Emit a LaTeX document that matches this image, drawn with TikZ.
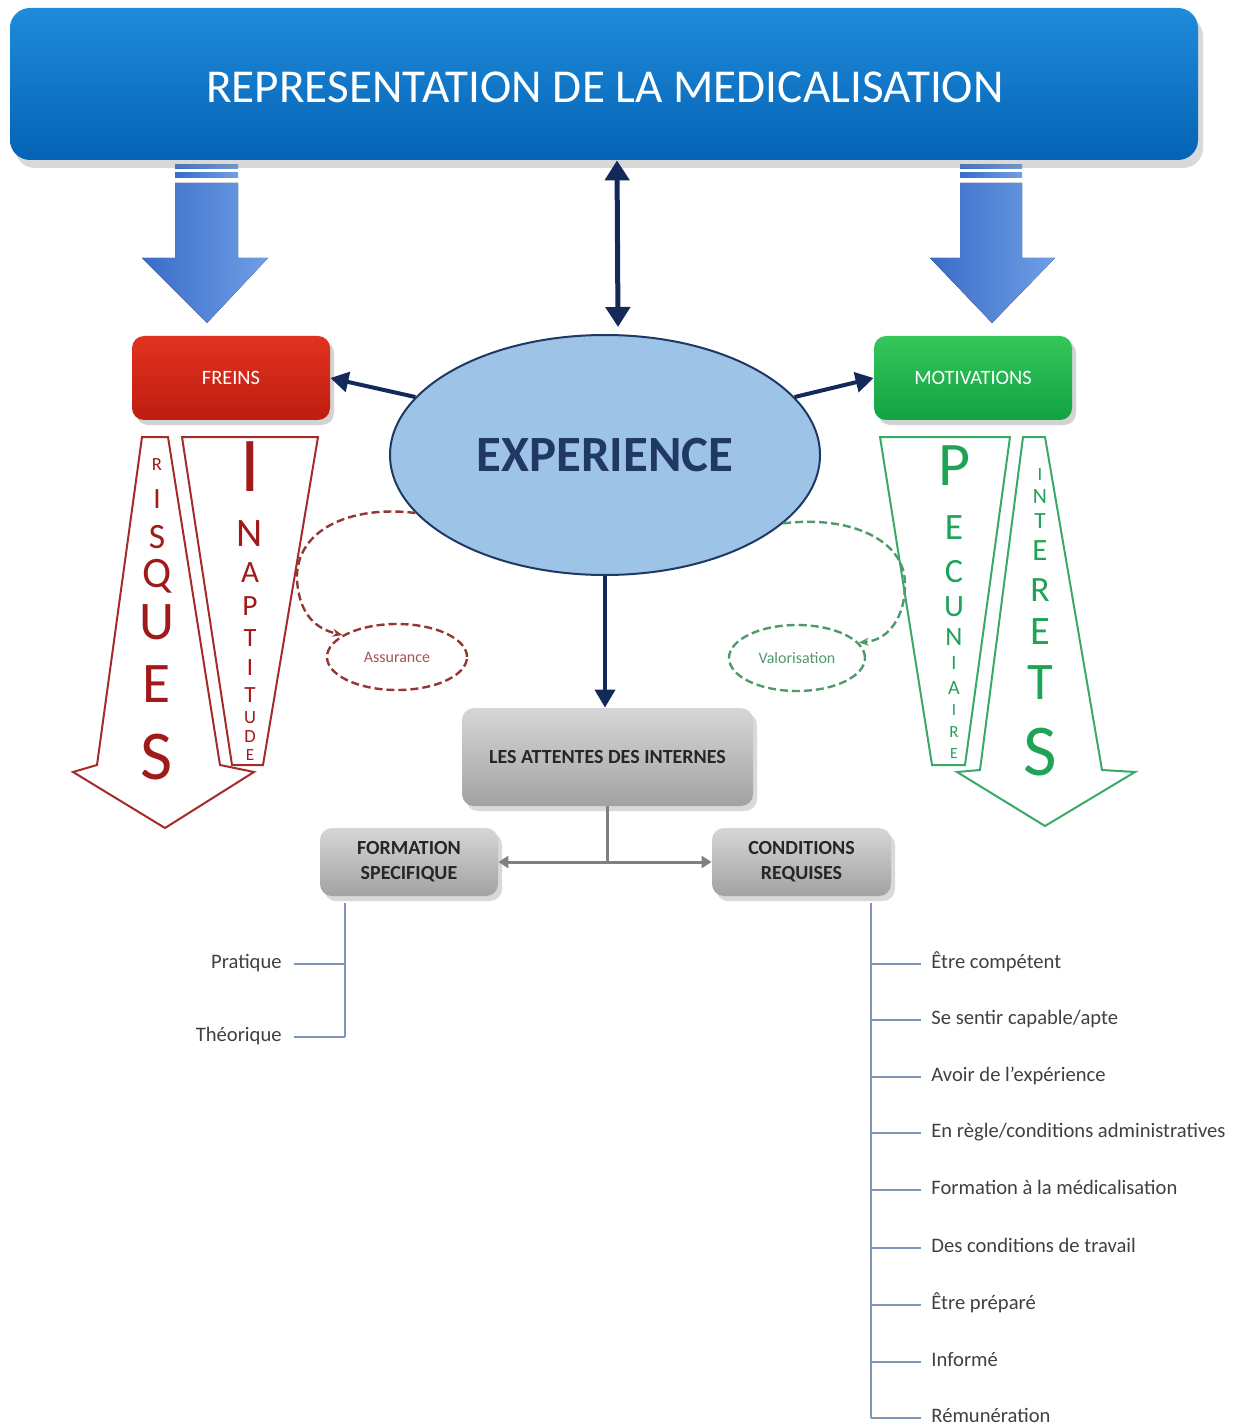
\documentclass[tikz,border=0pt]{standalone}
\usepackage{fontspec}
\setmainfont{Carlito}
\usetikzlibrary{arrows.meta,shadows,shapes.geometric,calc}
\definecolor{navy}{HTML}{12295A}
\definecolor{titleA}{HTML}{1F8BDB}
\definecolor{titleB}{HTML}{0563B5}
\definecolor{arrA}{HTML}{3A6CC8}
\definecolor{arrB}{HTML}{6F9FE6}
\definecolor{redA}{HTML}{E2321F}
\definecolor{redB}{HTML}{BE1D10}
\definecolor{greenA}{HTML}{35C75A}
\definecolor{greenB}{HTML}{11A243}
\definecolor{redtxt}{HTML}{A11A1A}
\definecolor{redline}{HTML}{A52A2A}
\definecolor{grntxt}{HTML}{1FA356}
\definecolor{grnline}{HTML}{3AA866}
\definecolor{expfill}{HTML}{9DC3E6}
\definecolor{expline}{HTML}{1F3864}
\definecolor{grayA}{HTML}{D6D6D6}
\definecolor{grayB}{HTML}{A2A2A2}
\definecolor{treeline}{HTML}{7E97B8}
\definecolor{leaftxt}{HTML}{404040}
\definecolor{assline}{HTML}{943634}
\definecolor{valline}{HTML}{4F9A6A}
\tikzset{
  titlebox/.style={rounded corners=10pt, top color=titleA, bottom color=titleB, draw=none,
    drop shadow={opacity=0.3, shadow xshift=2.5pt, shadow yshift=-4pt},
    text=white, inner sep=0pt},
  smallbox/.style={rounded corners=6pt, draw=none, inner sep=0pt, text=white,
    minimum width=99pt, minimum height=42pt, font=\fontsize{10.2}{10.2}\selectfont,
    drop shadow={opacity=0.35, shadow xshift=2pt, shadow yshift=-2.5pt}},
  graybox/.style={rounded corners=6pt, draw=none, top color=grayA, bottom color=grayB,
    inner sep=0pt, align=center, text=black!85, font=\bfseries\fontsize{10}{12.5}\selectfont,
    drop shadow={opacity=0.3, shadow xshift=2pt, shadow yshift=-2.5pt}},
  bluearrow/.style={left color=arrA, right color=arrB, draw=none},
  navyarrow/.style={draw=navy, line width=2.5pt, -{Triangle[width=12pt,length=10pt]}},
  grayarrow/.style={draw=black!50, line width=1.5pt},
  redshape/.style={draw=redline, line width=1pt, fill=white},
  grnshape/.style={draw=grnline, line width=1pt, fill=white},
  redletter/.style={text=redtxt, inner sep=0pt},
  grnletter/.style={text=grntxt, inner sep=0pt},
  dashell/.style={ellipse, dashed, dash pattern=on 4pt off 2pt, line width=1.2pt, inner sep=0pt,
    font=\fontsize{8}{8}\selectfont},
  leaf/.style={text=leaftxt, font=\fontsize{10.3}{10.3}\selectfont, inner sep=5pt,
    text height=6.6pt, text depth=1.8pt},
  tree/.style={draw=treeline, line width=0.7pt}
}
\begin{document}
\begin{tikzpicture}[x=0.5pt,y=-0.5pt]
\useasboundingbox (0,0) rectangle (1238,1427);

% blue block arrows
\fill[bluearrow] (175,165) rectangle (238,169);
\fill[bluearrow] (175,173) rectangle (238,178);
\fill[bluearrow] (175,183) -- (238,183) -- (238,258) -- (268,258) -- (207,323) -- (142,258) -- (175,258) -- cycle;
\fill[bluearrow] (960,165) rectangle (1022,169);
\fill[bluearrow] (960,173) rectangle (1022,178);
\fill[bluearrow] (960,183) -- (1022,183) -- (1022,258) -- (1055,258) -- (992,323) -- (930,258) -- (960,258) -- cycle;

% title
\node[titlebox, minimum width=594pt, minimum height=76pt] (title) at (604,84) {};
\node[text=white, font=\fontsize{23.6}{23.6}\selectfont, inner sep=0pt] (titletxt) at (605,87) {REPRESENTATION DE LA MEDICALISATION};

% freins / motivations
\node[smallbox, top color=redA, bottom color=redB] (freins) at (231,378) {FREINS};
\node[smallbox, top color=greenA, bottom color=greenB] (motiv) at (973,378) {MOTIVATIONS};

% red shapes
\draw[redshape] (142,437) -- (168,437) -- (220,765) -- (254,772) -- (165,828) -- (73,772) -- (97,765) -- cycle;
\draw[redshape] (182,437) -- (318,437) -- (263,765) -- (232,765) -- cycle;
\foreach \c/\y/\s [count=\i] in {R/465/9.3, I/499/14.7, S/537/17.8, Q/576/21.7, U/622/27.2, E/684/28.7, S/757/35}
  \node[redletter, font=\fontsize{\s}{\s}\selectfont] (ris\i) at (157,\y) {\c};
\foreach \c/\y/\s [count=\i] in {I/467/38.8, N/534/20.2, A/573/15.5, P/606/14.7, T/638/13.2, I/668/12.4, T/695/11.6, U/718/9.3, D/737/9.3, E/755/8.5}
  \node[redletter, font=\fontsize{\s}{\s}\selectfont] (ina\i) at (250,\y) {\c};

% green shapes
\draw[grnshape] (880,437) -- (1010,437) -- (965,765) -- (932,765) -- cycle;
\draw[grnshape] (1023,437) -- (1045,437) -- (1102,770) -- (1135,772) -- (1045,826) -- (957,772) -- (980,770) -- cycle;
\foreach \c/\y/\s [count=\i] in {P/466/31, E/528/18.6, C/572/17, U/607/15.5, N/637/13.2, I/663/10.1, A/688/10.1, I/710/8.5, R/732/8.5, E/753/7.8}
  \node[grnletter, font=\fontsize{\s}{\s}\selectfont] (pec\i) at (954,\y) {\c};
\foreach \c/\y/\s [count=\i] in {I/475/9.3, N/497/10.9, T/521/11.6, E/551/15.5, R/590/17.8, E/632/20.2, T/683/26.4, S/752/36.5}
  \node[grnletter, font=\fontsize{\s}{\s}\selectfont] (int\i) at (1040,\y) {\c};

% experience
\node[ellipse, draw=expline, line width=1pt, fill=expfill, minimum width=215pt, minimum height=120pt, inner sep=0pt,
  text=expline, font=\bfseries\fontsize{25.4}{25.4}\selectfont] (exp) at (605,455) {EXPERIENCE};

% navy arrows
\draw[navyarrow, {Triangle[width=12pt,length=10pt]}-{Triangle[width=12pt,length=10pt]}]
  ([xshift=6.5pt]title.south) -- ([xshift=6.5pt,yshift=3.5pt]exp.north);
\draw[navyarrow, line width=2pt, -{Triangle[width=10pt,length=9pt]}] (exp.163) -- (freins.east);
\draw[navyarrow, line width=2pt, -{Triangle[width=10pt,length=9pt]}] (exp.17) -- (motiv.west);

% assurance / valorisation
\node[dashell, draw=assline, text=assline!85] (ass) at (397,657) [minimum width=70pt, minimum height=33pt] {Assurance};
\node[dashell, draw=valline, text=valline] (val) at (797,658) [minimum width=68pt, minimum height=33pt] {Valorisation};
\draw[draw=assline, line width=1.2pt, dash pattern=on 4pt off 2pt, -{Stealth[length=5pt,width=4pt]}]
  (exp.197) .. controls (350,505) and (295,530) .. (297,580) .. controls (299,610) and (312,628) .. (ass.158);
\draw[draw=valline, line width=1.2pt, dash pattern=on 4pt off 2pt, -{Stealth[length=5pt,width=4pt]}]
  (exp.339) .. controls (850,515) and (906,540) .. (905,585) .. controls (905,615) and (890,640) .. (val.14);

% attentes
\node[graybox, minimum width=145.5pt, minimum height=49pt] (att) at (607.5,757) {LES ATTENTES DES INTERNES};
\draw[navyarrow, line width=2pt, -{Triangle[width=10pt,length=9pt]}] (exp.south) -- (exp.south |- att.north);
\node[graybox, minimum width=89pt, minimum height=34pt] (form) at (409,862) {FORMATION\\SPECIFIQUE};
\node[graybox, minimum width=89.5pt, minimum height=34pt] (cond) at (801.5,862) {CONDITIONS\\REQUISES};
\draw[grayarrow] (att.south) -- (att.south |- form.east);
\draw[grayarrow, {Triangle[width=6pt,length=5pt]}-{Triangle[width=6pt,length=5pt]}] (form.east) -- (cond.west);

% formation tree
\coordinate (ft) at (345,903);
\node[leaf, anchor=east] (prat) at (292,964) {Pratique};
\node[leaf, anchor=east] (theo) at (292,1037) {Théorique};
\draw[tree] (ft) -- (ft |- theo.east);
\draw[tree] ([xshift=1pt]prat.east) -- (prat.east -| ft);
\draw[tree] ([xshift=1pt]theo.east) -- (theo.east -| ft);

% conditions tree
\coordinate (ct) at (871,903);
\foreach \y/\t [count=\i] in {964/{Être compétent}, 1020/{Se sentir capable/apte}, 1077/{Avoir de l’expérience},
  1133/{En règle/conditions administratives}, 1190/{Formation à la médicalisation}, 1248/{Des conditions de travail},
  1305/{Être préparé}, 1362/{Informé}, 1418/{Rémunération}}
  {\node[leaf, anchor=west] (c\i) at (921,\y) {\t};
   \draw[tree] (c\i.west) -- (c\i.west -| ct);}
\draw[tree] (ct) -- (ct |- c9.west);
\end{tikzpicture}
\end{document}
